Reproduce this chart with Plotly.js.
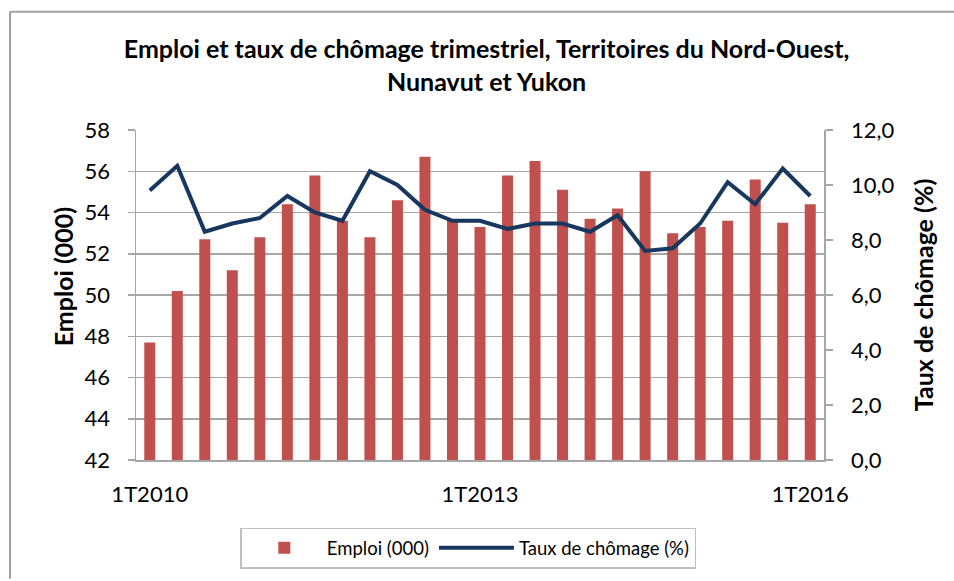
<!DOCTYPE html>
<html>
<head>
<meta charset="utf-8">
<script src="https://cdn.plot.ly/plotly-3.0.1.min.js"></script>
<style>
html,body{margin:0;padding:0;background:#fff;}
#chart{width:954px;height:581px;}
</style>
</head>
<body>
<div id="chart"></div>
<script>
const quarters = [
  "1T2010","2T2010","3T2010","4T2010",
  "1T2011","2T2011","3T2011","4T2011",
  "1T2012","2T2012","3T2012","4T2012",
  "1T2013","2T2013","3T2013","4T2013",
  "1T2014","2T2014","3T2014","4T2014",
  "1T2015","2T2015","3T2015","4T2015",
  "1T2016"
];
const emploi = [
  47.7, 50.2, 52.7, 51.2,
  52.8, 54.4, 55.8, 53.6,
  52.8, 54.6, 56.7, 53.6,
  53.3, 55.8, 56.5, 55.1,
  53.7, 54.2, 56.0, 53.0,
  53.3, 53.6, 55.6, 53.5,
  54.4
];
const chomage = [
  9.8, 10.7, 8.3, 8.6,
  8.8, 9.6, 9.0, 8.7,
  10.5, 10.0, 9.1, 8.7,
  8.7, 8.4, 8.6, 8.6,
  8.3, 8.9, 7.6, 7.7,
  8.6, 10.1, 9.3, 10.6,
  9.6
];
const xTickLabels = ["1T2010", "1T2013", "1T2016"];
const leftTicks = [42, 44, 46, 48, 50, 52, 54, 56, 58];
const rightTicks = [0, 2, 4, 6, 8, 10, 12];

const FONT = "Lato, 'Open Sans', sans-serif";
const GRID = "#a6a6a6";

const traces = [
  {
    type: "bar",
    name: "Emploi (000)",
    x: quarters,
    y: emploi,
    marker: {color: "#C0504D"},
    xaxis: "x",
    yaxis: "y"
  },
  {
    type: "scatter",
    mode: "lines",
    name: "Taux de chômage (%)",
    x: quarters,
    y: chomage,
    line: {color: "#17375E", width: 4},
    xaxis: "x",
    yaxis: "y2"
  }
];

const layout = {
  width: 954,
  height: 581,
  paper_bgcolor: "#ffffff",
  plot_bgcolor: "#ffffff",
  font: {family: FONT, color: "#000000", size: 21},
  margin: {l: 136, r: 130, t: 130, b: 119, pad: 0},
  bargap: 0.6,
  showlegend: true,
  title: {
    text: "<b>Emploi et taux de chômage trimestriel, Territoires du Nord-Ouest,<br>Nunavut et Yukon</b>",
    font: {family: FONT, size: 25, color: "#000000"},
    x: 0.51,
    xanchor: "center",
    y: 0.9,
    yanchor: "top"
  },
  xaxis: {
    type: "category",
    range: [-0.5, quarters.length - 0.5],
    tickvals: xTickLabels,
    ticktext: xTickLabels,
    ticks: "",
    showgrid: false,
    showline: true,
    linecolor: GRID,
    linewidth: 1.5,
    tickfont: {size: 22},
    ticklabelstandoff: 14,
    zeroline: false
  },
  xaxis2: {
    overlaying: "x",
    anchor: "y",
    range: [-0.5, quarters.length - 0.5],
    tick0: -0.5,
    dtick: 1,
    ticks: "outside",
    ticklen: 7,
    tickwidth: 1.5,
    tickcolor: GRID,
    showticklabels: false,
    showgrid: false,
    showline: false,
    zeroline: false
  },
  yaxis: {
    range: [42, 58],
    tickvals: leftTicks,
    ticks: "outside",
    ticklen: 7,
    tickwidth: 1.5,
    tickcolor: GRID,
    showgrid: true,
    gridcolor: GRID,
    gridwidth: 1.5,
    showline: true,
    linecolor: GRID,
    linewidth: 1.5,
    zeroline: false,
    tickfont: {size: 22},
    ticklabelstandoff: 13
  },
  yaxis2: {
    overlaying: "y",
    side: "right",
    range: [0, 12],
    tickvals: rightTicks,
    ticktext: rightTicks.map(v => v.toFixed(1).replace(".", ",")),
    ticks: "outside",
    ticklen: 7,
    tickwidth: 1.5,
    tickcolor: GRID,
    showgrid: false,
    showline: true,
    linecolor: GRID,
    linewidth: 1.5,
    zeroline: false,
    tickfont: {size: 22},
    ticklabelstandoff: 14,
    title: {text: "<b>Taux de chômage (%)</b>", font: {size: 25}, standoff: 22}
  },
  annotations: [
    {
      text: "<b>Emploi (000)</b>",
      xref: "paper", yref: "paper",
      x: -0.106, y: 0.554,
      xanchor: "center", yanchor: "middle",
      textangle: -90,
      showarrow: false,
      font: {family: FONT, size: 25, color: "#000000"}
    }
  ],
  legend: {
    orientation: "h",
    x: 0.483,
    xanchor: "center",
    y: -0.205,
    yanchor: "top",
    bordercolor: "#bfbfbf",
    borderwidth: 1.5,
    font: {size: 18.5},
    traceorder: "normal",
    itemwidth: 75
  },
  shapes: [
    {type: "line", xref: "paper", yref: "paper", x0: -0.1831, x1: 1.19, y0: 1.3584, y1: 1.3584, line: {color: "#a0a0a0", width: 2}},
    {type: "line", xref: "paper", yref: "paper", x0: -0.1831, x1: -0.1831, y0: 1.3584, y1: -0.36, line: {color: "#a0a0a0", width: 2}}
  ]
};

Plotly.newPlot("chart", traces, layout, {displayModeBar: false, staticPlot: true});
</script>
</body>
</html>
